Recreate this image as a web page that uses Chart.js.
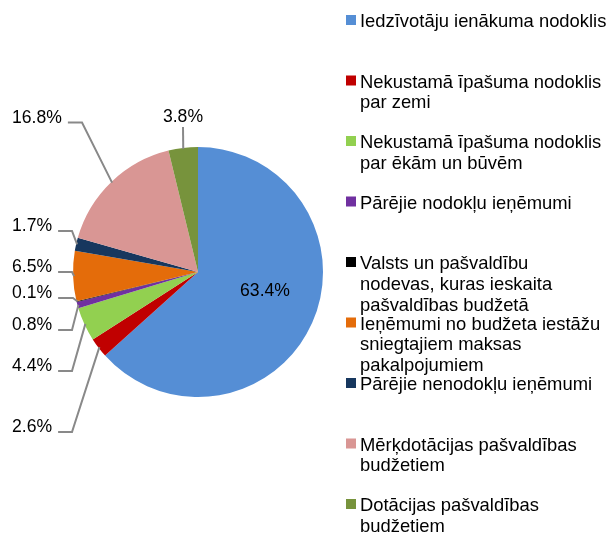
<!DOCTYPE html>
<html>
<head>
<meta charset="utf-8">
<script src="https://cdn.jsdelivr.net/npm/chart.js@4/dist/chart.umd.min.js"></script>
<style>
  html, body { margin: 0; padding: 0; background: #fff; }
  #wrap { width: 608px; height: 534px; position: relative; }
</style>
</head>
<body>
<div id="wrap"><canvas id="pie"></canvas></div>
<script>
// categories (legend text, split in lines as in the picture)
const categories = [
  ["Iedzīvotāju ienākuma nodoklis"],
  ["Nekustamā īpašuma nodoklis", "par zemi"],
  ["Nekustamā īpašuma nodoklis", "par ēkām un būvēm"],
  ["Pārējie nodokļu ieņēmumi"],
  ["Valsts un pašvaldību", "nodevas, kuras ieskaita", "pašvaldības budžetā"],
  ["Ieņēmumi no budžeta iestāžu", "sniegtajiem maksas", "pakalpojumiem"],
  ["Pārējie nenodokļu ieņēmumi"],
  ["Mērķdotācijas pašvaldības", "budžetiem"],
  ["Dotācijas pašvaldības", "budžetiem"]
];
// share of revenue, %
const shares = [63.4, 2.6, 4.4, 0.8, 0.1, 6.5, 1.7, 16.8, 3.8];
const colors = ["#558ed5", "#c00000", "#92d050", "#7030a0", "#000000",
                "#e46c0a", "#17375e", "#d99694", "#77933c"];

// where each percentage label sits (layout only)
const labelLayout = [
  { kind: "inside", x: 265, y: 296 },
  { kind: "left", x: 12, y: 432, elbow: 72 },
  { kind: "left", x: 12, y: 371, elbow: 72 },
  { kind: "left", x: 12, y: 330, elbow: 72 },
  { kind: "left", x: 12, y: 298, elbow: 73 },
  { kind: "left", x: 12, y: 272, elbow: 72 },
  { kind: "left", x: 12, y: 231, elbow: 72 },
  { kind: "left", x: 12, y: 122.5, elbow: 82 },
  { kind: "top", x: 183, y: 122 }
];

const FONT = '"Liberation Sans", Arial, sans-serif';

const pieLabels = {
  id: "pieLabels",
  afterDatasetsDraw(chart) {
    const ctx = chart.ctx;
    const meta = chart.getDatasetMeta(0);
    ctx.save();
    ctx.font = "17.6px " + FONT;
    ctx.fillStyle = "#000";
    ctx.textBaseline = "alphabetic";
    meta.data.forEach((arc, i) => {
      const lay = labelLayout[i];
      const txt = shares[i].toFixed(1) + "%";
      const mid = (arc.startAngle + arc.endAngle) / 2;
      const r = arc.outerRadius - 1;
      const px = arc.x + Math.cos(mid) * r;
      const py = arc.y + Math.sin(mid) * r;
      ctx.strokeStyle = "#898989";
      ctx.lineWidth = 2;
      if (lay.kind === "inside") {
        ctx.textAlign = "center";
        ctx.fillText(txt, lay.x, lay.y);
      } else if (lay.kind === "left") {
        ctx.textAlign = "left";
        ctx.fillText(txt, lay.x, lay.y);
        const w = ctx.measureText(txt).width;
        ctx.beginPath();
        ctx.moveTo(lay.x + w + 6, lay.y);
        ctx.lineTo(lay.elbow, lay.y);
        ctx.lineTo(px, py);
        ctx.stroke();
      } else {
        ctx.textAlign = "center";
        ctx.fillText(txt, lay.x, lay.y);
        ctx.beginPath();
        ctx.moveTo(lay.x, lay.y + 5);
        ctx.lineTo(px, py);
        ctx.stroke();
      }
    });
    ctx.restore();
  }
};

const sideLegend = {
  id: "sideLegend",
  afterDraw(chart) {
    const ctx = chart.ctx;
    const ds = chart.data.datasets[0];
    ctx.save();
    ctx.font = "18.4px " + FONT;
    ctx.textAlign = "left";
    ctx.textBaseline = "alphabetic";
    chart.data.labels.forEach((lines, i) => {
      const base = 27 + 60.5 * i;
      ctx.fillStyle = ds.backgroundColor[i];
      ctx.fillRect(346, base - 12, 10, 10);
      ctx.fillStyle = "#000";
      lines.forEach((ln, k) => ctx.fillText(ln, 360, base + k * 20.8));
    });
    ctx.restore();
  }
};

new Chart(document.getElementById("pie"), {
  type: "pie",
  data: {
    labels: categories,
    datasets: [{
      data: shares,
      backgroundColor: colors,
      borderWidth: 0
    }]
  },
  options: {
    responsive: true,
    maintainAspectRatio: false,
    animation: false,
    layout: { padding: { left: 73, right: 285, top: 147, bottom: 137 } },
    plugins: {
      legend: { display: false },
      tooltip: { enabled: false }
    }
  },
  plugins: [pieLabels, sideLegend]
});
</script>
</body>
</html>
